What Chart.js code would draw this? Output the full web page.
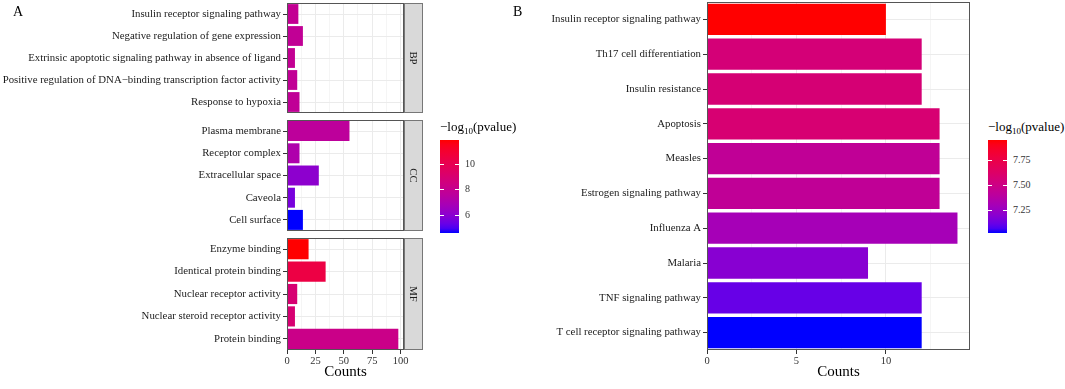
<!DOCTYPE html>
<html>
<head>
<meta charset="utf-8">
<script src="https://cdn.jsdelivr.net/npm/chart.js@4.4.1/dist/chart.umd.min.js"></script>
<style>
  body { margin: 0; background: #fff; font-family: "Liberation Serif", "Times New Roman", serif; }
  #wrap { position: relative; width: 1065px; height: 389px; overflow: hidden; }
  canvas { position: absolute; }
  .txt { position: absolute; white-space: nowrap; line-height: 1; color: #000; }
  .bar { position: absolute; }
  .tk { position: absolute; background: #fff; height: 1px; width: 4px; }
</style>
</head>
<body>
<div id="wrap">
  <canvas id="bp" width="425" height="116" style="left:0;top:0"></canvas>
  <canvas id="cc" width="425" height="117" style="left:0;top:117px"></canvas>
  <canvas id="mf" width="425" height="154" style="left:0;top:235px"></canvas>
  <canvas id="kegg" width="455" height="389" style="left:520px;top:0"></canvas>
  <div class="txt" style="left:13px;top:5px;font-size:14px">A</div>
  <div class="txt" style="left:513px;top:5px;font-size:14px">B</div>
  <div id="legA"></div>
  <div id="legB"></div>
</div>
<script>
// GO terms (panel A), top to bottom in each facet
const bpTerms = ['Insulin receptor signaling pathway', 'Negative regulation of gene expression',
  'Extrinsic apoptotic signaling pathway in absence of ligand',
  'Positive regulation of DNA\u2212binding transcription factor activity', 'Response to hypoxia'];
const bpCounts = [10, 14, 7, 9, 11];
const bpLogP = [7.9, 7.85, 7.9, 7.85, 7.8];

const ccTerms = ['Plasma membrane', 'Receptor complex', 'Extracellular space', 'Caveola', 'Cell surface'];
const ccCounts = [55, 11, 28, 7, 14];
const ccLogP = [7.65, 7.1, 6.05, 5.6, 4.59];

const mfTerms = ['Enzyme binding', 'Identical protein binding', 'Nuclear receptor activity',
  'Nuclear steroid receptor activity', 'Protein binding'];
const mfCounts = [19, 34, 9, 7, 98];
const mfLogP = [11.88, 10.4, 8.95, 8.95, 8.25];

// KEGG pathways (panel B)
const keggTerms = ['Insulin receptor signaling pathway', 'Th17 cell differentiation', 'Insulin resistance',
  'Apoptosis', 'Measles', 'Estrogen signaling pathway', 'Influenza A', 'Malaria',
  'TNF signaling pathway', 'T cell receptor signaling pathway'];
const keggCounts = [10, 12, 12, 13, 13, 13, 14, 9, 12, 12];
const keggLogP = [7.957, 7.56, 7.57, 7.58, 7.43, 7.43, 7.30, 7.19, 7.11, 7.017];

const legTicksA = [6, 8, 10];
const legTicksB = [7.25, 7.5, 7.75];

const FONT = '"Liberation Serif", "Times New Roman", serif';

// blue -> red gradient interpolated in CIELAB (like ggplot's scale_fill_gradient)
function toLab(rgb) {
  const lin = rgb.map(c => { c /= 255; return c <= 0.04045 ? c / 12.92 : Math.pow((c + 0.055) / 1.055, 2.4); });
  const X = (0.4124564 * lin[0] + 0.3575761 * lin[1] + 0.1804375 * lin[2]) / 0.95047;
  const Y = 0.2126729 * lin[0] + 0.7151522 * lin[1] + 0.0721750 * lin[2];
  const Z = (0.0193339 * lin[0] + 0.1191920 * lin[1] + 0.9503041 * lin[2]) / 1.08883;
  const f = t => t > 0.008856 ? Math.cbrt(t) : 7.787 * t + 16 / 116;
  return [116 * f(Y) - 16, 500 * (f(X) - f(Y)), 200 * (f(Y) - f(Z))];
}
function fromLab(L, a, b) {
  const fy = (L + 16) / 116, fx = fy + a / 500, fz = fy - b / 200;
  const inv = t => t > 0.206893 ? t * t * t : (t - 16 / 116) / 7.787;
  const X = inv(fx) * 0.95047, Y = inv(fy), Z = inv(fz) * 1.08883;
  const lin = [
    3.2404542 * X - 1.5371385 * Y - 0.4985314 * Z,
    -0.9692660 * X + 1.8760108 * Y + 0.0415560 * Z,
    0.0556434 * X - 0.2040259 * Y + 1.0572252 * Z
  ];
  return lin.map(c => {
    c = Math.min(1, Math.max(0, c));
    c = c <= 0.0031308 ? 12.92 * c : 1.055 * Math.pow(c, 1 / 2.4) - 0.055;
    return Math.round(c * 255);
  });
}
const LOW = toLab([0, 0, 255]), HIGH = toLab([255, 0, 0]);
function gradColor(v, lo, hi) {
  const t = Math.min(1, Math.max(0, (v - lo) / (hi - lo)));
  const c = fromLab(LOW[0] + t * (HIGH[0] - LOW[0]), LOW[1] + t * (HIGH[1] - LOW[1]), LOW[2] + t * (HIGH[2] - LOW[2]));
  return 'rgb(' + c.join(',') + ')';
}

// panel frame + facet strip
const framePlugin = {
  id: 'frame',
  afterDatasetsDraw(chart, args, opts) {
    const { ctx, chartArea: a } = chart;
    ctx.save();
    if (opts.strip) {
      ctx.fillStyle = '#d9d9d9';
      ctx.fillRect(a.right, a.top, 18, a.bottom - a.top);
      ctx.strokeStyle = '#777';
      ctx.lineWidth = 1;
      ctx.strokeRect(a.right + 0.5, a.top + 0.5, 18, a.bottom - a.top - 1);
      ctx.save();
      ctx.translate(a.right + 9, (a.top + a.bottom) / 2);
      ctx.rotate(Math.PI / 2);
      ctx.fillStyle = '#1a1a1a';
      ctx.font = '10.8px ' + FONT;
      ctx.textAlign = 'center';
      ctx.textBaseline = 'middle';
      ctx.fillText(opts.strip, 0, 0);
      ctx.restore();
    }
    ctx.strokeStyle = '#555';
    ctx.lineWidth = 1;
    ctx.strokeRect(Math.round(a.left) + 0.5, Math.round(a.top) + 0.5,
      Math.round(a.right - a.left) - 1, Math.round(a.bottom - a.top) - 1);
    ctx.restore();
  }
};

function makeChart(id, terms, counts, colors, opt) {
  const major = opt.major;
  return new Chart(document.getElementById(id), {
    type: 'bar',
    data: {
      labels: terms,
      datasets: [{
        data: counts,
        backgroundColor: colors,
        borderWidth: 0,
        barPercentage: 0.9,
        categoryPercentage: 1
      }]
    },
    options: {
      indexAxis: 'y',
      responsive: false,
      animation: false,
      devicePixelRatio: 1,
      layout: { padding: opt.padding },
      plugins: {
        legend: { display: false },
        tooltip: { enabled: false },
        frame: { strip: opt.strip }
      },
      scales: {
        x: {
          type: 'linear',
          min: 0,
          max: opt.max,
          afterFit: s => {
            s.height = opt.showX ? 37 : 0;
            s.paddingLeft = 0; s.paddingRight = 0;
          },
          border: { display: false },
          grid: {
            color: c => (c.tick && c.tick.value % major === 0) ? '#ebebeb' : '#f5f5f5',
            drawTicks: opt.showX,
            tickLength: 4,
            tickColor: c => (c.tick && c.tick.value % major === 0) ? '#333' : 'rgba(0,0,0,0)'
          },
          ticks: {
            display: opt.showX,
            stepSize: major / 2,
            includeBounds: false,
            autoSkip: false,
            maxRotation: 0,
            padding: 1,
            color: '#333',
            font: { size: 10.5, family: FONT },
            callback: v => v % major === 0 ? v : ''
          },
          title: {
            display: opt.showX,
            text: 'Counts',
            color: '#000',
            font: { size: 15, family: FONT },
            padding: { top: 0, bottom: 6 }
          }
        },
        y: {
          afterFit: s => {
            s.width = opt.yWidth;
            s.paddingTop = 0; s.paddingBottom = 0;
          },
          border: { display: false },
          grid: { offset: false, color: '#ebebeb', tickLength: 4, tickColor: '#333' },
          ticks: { autoSkip: false, padding: 2, color: '#1a1a1a', font: { size: 10.8, family: FONT } }
        }
      }
    },
    plugins: [framePlugin]
  });
}

const aAll = bpLogP.concat(ccLogP, mfLogP);
const aLo = Math.min(...aAll), aHi = Math.max(...aAll);
const bLo = Math.min(...keggLogP), bHi = Math.max(...keggLogP);

const aOpt = { max: 103, major: 25, yWidth: 287 };
makeChart('bp', bpTerms, bpCounts, bpLogP.map(v => gradColor(v, aLo, aHi)),
  Object.assign({}, aOpt, { strip: 'BP', showX: false, padding: { top: 3, bottom: 3, left: 0, right: 21 } }));
makeChart('cc', ccTerms, ccCounts, ccLogP.map(v => gradColor(v, aLo, aHi)),
  Object.assign({}, aOpt, { strip: 'CC', showX: false, padding: { top: 3, bottom: 3, left: 0, right: 21 } }));
makeChart('mf', mfTerms, mfCounts, mfLogP.map(v => gradColor(v, aLo, aHi)),
  Object.assign({}, aOpt, { strip: 'MF', showX: true, padding: { top: 3, bottom: 2, left: 0, right: 21 } }));
makeChart('kegg', keggTerms, keggCounts, keggLogP.map(v => gradColor(v, bLo, bHi)),
  { max: 14.7, major: 5, yWidth: 187, showX: true, padding: { top: 2, bottom: 2, left: 0, right: 5 } });

// colourbar legends
function colorbar(el, x, lo, hi, ticks, fmt) {
  const top = 140, h = 93, w = 19;
  const stops = [];
  for (let i = 0; i <= 20; i++) stops.push(gradColor(lo + (hi - lo) * i / 20, lo, hi) + ' ' + (i * 5) + '%');
  let html = '<div class="txt" style="left:' + x + 'px;top:120px;font-size:13px">\u2212log<span style="font-size:9px;position:relative;top:3px">10</span>(pvalue)</div>';
  html += '<div class="bar" style="left:' + x + 'px;top:' + top + 'px;width:' + w + 'px;height:' + h + 'px;background:linear-gradient(to top,' + stops.join(',') + ')"></div>';
  ticks.forEach(v => {
    const y = Math.round(top + h * (hi - v) / (hi - lo));
    html += '<div class="tk" style="left:' + x + 'px;top:' + y + 'px"></div>';
    html += '<div class="tk" style="left:' + (x + w - 4) + 'px;top:' + y + 'px"></div>';
    html += '<div class="txt" style="left:' + (x + w + 6) + 'px;top:' + (y - 5) + 'px;font-size:10px;color:#333">' + fmt(v) + '</div>';
  });
  el.innerHTML = html;
}
colorbar(document.getElementById('legA'), 440, aLo, aHi, legTicksA, v => String(v));
colorbar(document.getElementById('legB'), 988, bLo, bHi, legTicksB, v => v.toFixed(2));
</script>
</body>
</html>
